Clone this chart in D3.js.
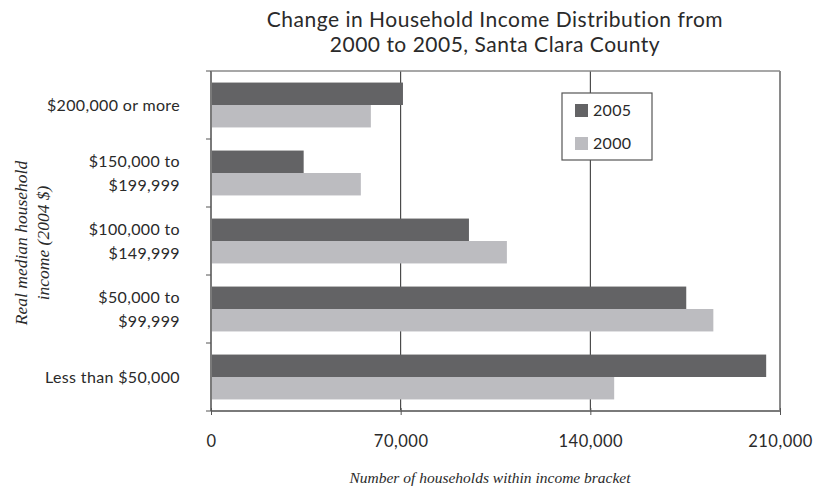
<!DOCTYPE html>
<html>
<head>
<meta charset="utf-8">
<script src="https://cdn.jsdelivr.net/npm/d3@7"></script>
<style>
  html, body { margin: 0; padding: 0; background: #fff; }
  svg { display: block; }
</style>
</head>
<body>
<svg id="chart" width="821" height="488"></svg>
<script>
// Income brackets, top to bottom
const brackets = [
  ["$200,000 or more"],
  ["$150,000 to", "$199,999"],
  ["$100,000 to", "$149,999"],
  ["$50,000 to", "$99,999"],
  ["Less than $50,000"]
];
const seriesNames = ["2005", "2000"];
const households2005 = [70850, 34200, 95200, 175400, 204900];
const households2000 = [59000, 55300, 109200, 185400, 148800];
const xTicks = [0, 70000, 140000, 210000];

const colors = { "2005": "#636365", "2000": "#bcbcc0" };
const sansFont = "'Lato', 'Open Sans', sans-serif";
const serifFont = "'Liberation Serif', 'DejaVu Serif', serif";
const ink = "#2a2a2a";

const svg = d3.select("#chart");
const margin = { left: 211, right: 41, top: 71, bottom: 77 };
const W = 821, H = 488;
const plotW = W - margin.left - margin.right;
const plotH = H - margin.top - margin.bottom;

const x = d3.scaleLinear().domain([0, 210000]).range([0, plotW]);
const y = d3.scaleBand().domain(d3.range(brackets.length)).range([0, plotH]).paddingInner(0.34).paddingOuter(0.17);
const ySub = d3.scaleBand().domain(seriesNames).range([0, y.bandwidth()]);

const g = svg.append("g").attr("transform", `translate(${margin.left},${margin.top})`);

// Vertical gridlines
g.selectAll("line.grid")
  .data(xTicks.slice(1, -1))
  .join("line")
  .attr("class", "grid")
  .attr("x1", d => x(d)).attr("x2", d => x(d))
  .attr("y1", 0).attr("y2", plotH)
  .attr("stroke", "#2a2a2a").attr("stroke-width", 1);

// Bars
const groups = g.selectAll("g.bracket")
  .data(brackets.map((b, i) => ({ i, values: { "2005": households2005[i], "2000": households2000[i] } })))
  .join("g")
  .attr("class", "bracket")
  .attr("transform", d => `translate(0,${y(d.i)})`);

groups.selectAll("rect")
  .data(d => seriesNames.map(s => ({ s, v: d.values[s] })))
  .join("rect")
  .attr("x", 0)
  .attr("y", d => ySub(d.s))
  .attr("width", d => x(d.v))
  .attr("height", ySub.bandwidth())
  .attr("fill", d => colors[d.s]);

// Plot frame: top and right edges
g.append("line").attr("x1", 0).attr("x2", plotW).attr("y1", 0).attr("y2", 0)
  .attr("stroke", "#8a8a8a").attr("stroke-width", 1.5);
g.append("line").attr("x1", plotW).attr("x2", plotW).attr("y1", 0).attr("y2", plotH)
  .attr("stroke", "#8a8a8a").attr("stroke-width", 2);

// Category axis (left) with ticks at band boundaries
const yEdges = d3.range(brackets.length + 1).map(i => i * plotH / brackets.length);
g.append("line").attr("x1", 0).attr("x2", 0).attr("y1", 0).attr("y2", plotH)
  .attr("stroke", "#7a7a7a").attr("stroke-width", 2);
g.selectAll("line.ytick").data(yEdges).join("line")
  .attr("class", "ytick")
  .attr("x1", -5).attr("x2", 0)
  .attr("y1", d => d).attr("y2", d => d)
  .attr("stroke", "#555").attr("stroke-width", 1);

// Category labels
const labelG = g.append("g")
  .attr("font-family", sansFont).attr("font-size", 16).attr("letter-spacing", 0.35).attr("fill", ink);
brackets.forEach((lines, i) => {
  const cy = y(i) + y.bandwidth() / 2;
  const lh = 24;
  const t = labelG.append("text").attr("text-anchor", "end");
  lines.forEach((ln, k) => {
    t.append("tspan")
      .attr("x", -31)
      .attr("y", cy + (k - (lines.length - 1) / 2) * lh)
      .attr("dy", "0.35em")
      .text(ln);
  });
});

// Value axis (bottom)
const xAxis = d3.axisBottom(x).tickValues(xTicks).tickSize(5).tickFormat(d3.format(","));
const xa = g.append("g").attr("transform", `translate(0,${plotH})`).call(xAxis);
xa.select(".domain").attr("stroke", "#7a7a7a").attr("stroke-width", 2).attr("d", `M0,0H${plotW}`);
xa.selectAll(".tick line").attr("stroke", "#555").attr("y1", -3).attr("y2", 4);
xa.selectAll(".tick text")
  .attr("y", 24)
  .attr("font-family", sansFont).attr("font-size", 16.5).attr("letter-spacing", 0.5).attr("fill", ink);

// Legend
const legend = svg.append("g").attr("transform", "translate(562,93)");
legend.append("rect").attr("width", 90).attr("height", 67)
  .attr("fill", "#fff").attr("stroke", "#555").attr("stroke-width", 1.2);
seriesNames.forEach((s, k) => {
  const ly = 17 + k * 33;
  legend.append("rect").attr("x", 13).attr("y", ly - 6).attr("width", 13).attr("height", 13).attr("fill", colors[s]);
  legend.append("text").attr("x", 31).attr("y", ly).attr("dy", "0.36em")
    .attr("font-family", sansFont).attr("font-size", 16).attr("letter-spacing", 0.3).attr("fill", ink).text(s);
});

// Title
const title = svg.append("text").attr("text-anchor", "middle")
  .attr("font-family", sansFont).attr("font-size", 21).attr("letter-spacing", 0.5).attr("fill", ink);
title.append("tspan").attr("x", 495).attr("y", 27).text("Change in Household Income Distribution from");
title.append("tspan").attr("x", 495).attr("y", 52).text("2000 to 2005, Santa Clara County");

// Axis titles
svg.append("text").attr("x", 490).attr("y", 483).attr("text-anchor", "middle")
  .attr("font-family", serifFont).attr("font-style", "italic").attr("font-size", 15.5).attr("fill", ink)
  .text("Number of households within income bracket");

const yTitle = svg.append("text").attr("transform", "translate(0,243) rotate(-90)")
  .attr("text-anchor", "middle")
  .attr("font-family", serifFont).attr("font-style", "italic").attr("font-size", 17.5).attr("fill", ink);
yTitle.append("tspan").attr("x", 0).attr("y", 27).text("Real median household");
yTitle.append("tspan").attr("x", 0).attr("y", 49).text("income (2004 $)");
</script>
</body>
</html>
